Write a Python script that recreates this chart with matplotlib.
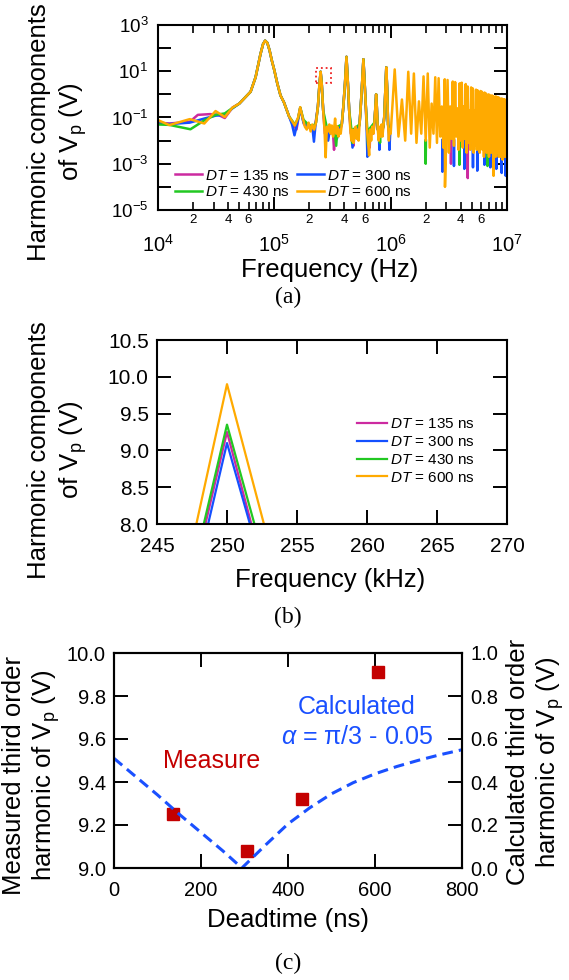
import numpy as np
import matplotlib
matplotlib.use('Agg')
import matplotlib.pyplot as plt
from matplotlib.ticker import FixedLocator, NullLocator, FuncFormatter, MultipleLocator
from matplotlib.patches import Rectangle

plt.rcParams['font.family'] = 'Liberation Sans'
plt.rcParams['mathtext.fontset'] = 'custom'
plt.rcParams['mathtext.rm'] = 'Liberation Sans'
plt.rcParams['mathtext.it'] = 'Liberation Sans:italic'
plt.rcParams['mathtext.bf'] = 'Liberation Sans:bold'

# ---- data ------------------------------------------------------------
labels = ['135', '300', '430', '600']
colors = ['#cc2aa0', '#1450ff', '#22c822', '#ffaa00']
NAN = np.nan

# (a) spectrum, DT = 600 ns (kHz, V) - the curve that sits on top
spec_600 = [
    (10, 0.077), (12.5, 0.047), (18.75, 0.085), (25, 0.055), (31.25, 0.19), (37.5, 0.105),
    (43.75, 0.27), (50, 0.40), (62.5, 1.3), (69, 5.5), (76, 55), (80, 150), (83.3, 210),
    (87, 170), (91, 80), (95, 30), (100, 11), (106, 3.0), (113, 0.9), (121, 0.45),
    (134, 0.11), (142, 0.07), (150, 0.045), (160, 0.1), (167, 0.28), (175, 0.1), (183, 0.04),
    (190, 0.03), (197, 0.06), (205, 0.025), (212, 0.05), (220, 0.03), (228, 0.06), (237, 0.3),
    (244, 2.5), (250, 9.5), (256, 2.5), (263, 0.2), (270, 0.03), (276, 0.0019), (283, 0.04),
    (290, 0.025), (297, 0.05), (305, 0.02), (312, 0.045), (320, 0.015), (326, 0.03), (333, 0.09),
    (340, 0.02), (348, 0.04), (356, 0.015), (364, 0.03), (372, 0.02), (380, 0.05), (392, 0.3),
    (405, 3), (417, 42), (429, 3), (440, 0.2), (450, 0.03), (460, 0.01), (470, 0.03),
    (480, 0.008), (490, 0.025), (500, 0.04), (510, 0.012), (520, 0.03), (530, 0.01), (540, 0.05),
    (555, 0.4), (570, 4), (583, 33), (596, 4), (610, 0.4), (625, 0.03), (640, 0.008),
    (653, 0.0023), (665, 0.03), (680, 0.01), (695, 0.04), (710, 0.02), (725, 0.06), (740, 0.3),
    (750, 1.0), (760, 0.3), (775, 0.03), (790, 0.01), (805, 0.04), (820, 0.015), (835, 0.05),
    (850, 0.015), (865, 0.04), (880, 0.1), (900, 1.5), (917, 14.7), (934, 1.5), (950, 0.05),
    (965, 0.01), (980, 0.03),
    (1000, 0.02), (1083.3, 12), (1166.7, 0.015), (1250, 0.6), (1333.3, 0.01), (1416.7, 9.5),
    (1500, 0.02), (1583.3, 8), (1666.7, 0.008), (1750, 0.5), (1833.3, 0.02), (1916.7, 6),
    (2000, 0.01), (2083.3, 8), (2166.7, 0.005), (2250, 0.4), (2333.3, 0.02), (2416.7, 5.5),
    (2500, 0.008), (2583.3, 5), (2666.7, 0.015), (2750, 0.3), (2833.3, 0.005), (2916.7, 4.5),
    (2930, 0.0001), (3000, 0.01), (3083.3, 4.2), (3166.7, 0.003), (3250, 0.3), (3333.3, 0.012),
    (3416.7, 3.6), (3500, 0.006), (3583.3, 3.4), (3666.7, 0.015), (3750, 0.25), (3833.3, 0.004),
    (3916.7, 3.0), (4000, 0.01), (4083.3, 3.2), (4166.7, 0.005), (4250, 0.3), (4333.3, 0.012),
    (4416.7, 2.8), (4500, 0.003), (4583.3, 2.2), (4666.7, 0.008), (4750, 0.2), (4833.3, 0.004),
    (4916.7, 2.0), (5000, 0.01), (5083.3, 1.8), (5166.7, 0.003), (5250, 0.2), (5333.3, 0.006),
    (5416.7, 1.6), (5500, 0.004), (5583.3, 1.5), (5666.7, 0.01), (5750, 0.15), (5833.3, 0.003),
    (5916.7, 1.4), (6000, 0.007), (6083.3, 1.3), (6166.7, 0.004), (6250, 0.15), (6333.3, 0.002),
    (6416.7, 1.2), (6500, 0.006), (6583.3, 1.1), (6666.7, 0.003), (6750, 0.12), (6833.3, 0.008),
    (6916.7, 1.0), (7000, 0.002), (7083.3, 0.95), (7166.7, 0.005), (7250, 0.1), (7333.3, 0.003),
    (7416.7, 0.9), (7500, 0.007), (7583.3, 0.85), (7666.7, 0.0003), (7750, 0.1), (7833.3, 0.004),
    (7916.7, 0.8), (8000, 0.002), (8083.3, 0.8), (8166.7, 0.006), (8250, 0.08), (8333.3, 0.003),
    (8416.7, 0.75), (8500, 0.002), (8583.3, 0.7), (8666.7, 0.005), (8750, 0.08), (8833.3, 0.002),
    (8916.7, 0.65), (9000, 0.004), (9083.3, 0.65), (9166.7, 0.0015), (9250, 0.07), (9333.3, 0.003),
    (9416.7, 0.6), (9500, 0.002), (9583.3, 0.6), (9666.7, 0.004), (9750, 0.07), (9833.3, 0.002),
    (9916.7, 0.55), (10000, 0.003),
]

# the other three curves mostly hide under the orange one; listed where they differ
# (NaN = gap, above 1 MHz only the dips below the orange band are visible)
spec_135 = [
    (10, 0.06), (12.5, 0.055), (18.75, 0.065), (22, 0.13), (28, 0.14), (33, 0.13), (37.5, 0.095),
    (43.75, 0.27), (50, 0.40), (62.5, 1.3), (69, 5.5), (76, 55), (80, 150), (83.3, 210),
    (87, 170), (91, 80), (95, 30), (100, 11), (106, 3.0), (113, 0.9), (121, 0.45), (134, 0.11),
    (145, 0.05), (155, 0.03), (167, 0.26), (180, 0.05), (195, 0.04), (210, 0.03), (225, 0.05),
    (237, 0.3), (244, 2.5), (250, 9.5), (256, 2.5), (263, 0.2), (272, 0.02), (285, 0.03),
    (300, 0.02), (318, 0.03), (326, 0.004), (334, 0.03), (345, 0.03), (360, 0.02), (380, 0.05),
    (392, 0.3), (405, 3), (417, 42), (429, 3), (440, 0.2), (455, 0.02), (470, 0.03),
    (480, 0.006), (490, 0.03), (520, 0.03), (540, 0.05), (555, 0.4), (570, 4), (583, 33),
    (596, 4), (610, 0.4), (625, 0.03), (650, 0.02), (660, 0.005), (670, 0.03), (710, 0.02),
    (725, 0.06), (740, 0.3), (750, 1.0), (760, 0.3), (775, 0.03), (800, 0.03), (830, 0.02),
    (865, 0.04), (880, 0.1), (900, 1.5), (917, 14.7), (934, 1.5), (950, 0.05), (980, 0.02),
    (NAN, NAN), (3290, 0.01), (3300, 0.001), (3310, 0.01),
    (NAN, NAN), (4590, 0.01), (4600, 0.00024), (4610, 0.01),
    (NAN, NAN), (7790, 0.01), (7800, 0.0008), (7810, 0.01),
]
spec_300 = [
    (10, 0.055), (12.5, 0.052), (18.75, 0.06), (25, 0.09), (31.25, 0.12), (37.5, 0.13),
    (43.75, 0.25), (50, 0.40), (62.5, 1.3), (69, 5.5), (76, 55), (80, 150), (83.3, 210),
    (87, 170), (91, 80), (95, 30), (100, 11), (106, 3.0), (113, 0.9), (121, 0.45), (134, 0.11),
    (142, 0.05), (149, 0.017), (155, 0.04), (167, 0.26), (178, 0.06), (195, 0.04), (212, 0.04),
    (219, 0.009), (225, 0.04), (237, 0.3), (244, 2.5), (250, 9.5), (256, 2.5), (263, 0.2),
    (275, 0.03), (290, 0.01), (300, 0.03), (330, 0.03), (345, 0.012), (360, 0.03), (380, 0.05),
    (392, 0.3), (405, 3), (417, 42), (429, 3), (440, 0.2), (455, 0.03), (470, 0.005),
    (480, 0.03), (510, 0.02), (540, 0.05), (555, 0.4), (570, 4), (583, 33), (596, 4),
    (610, 0.4), (622, 0.03), (631, 0.002), (640, 0.03), (680, 0.02), (710, 0.03), (725, 0.06),
    (740, 0.3), (750, 1.0), (760, 0.3), (775, 0.03), (790, 0.03), (800, 0.004), (810, 0.03),
    (840, 0.02), (865, 0.04), (880, 0.1), (900, 1.5), (917, 14.7), (934, 1.5), (950, 0.05),
    (965, 0.02), (975, 0.004), (990, 0.02),
    (NAN, NAN), (2780, 0.01), (2790, 0.00045), (2800, 0.01),
    (NAN, NAN), (3490, 0.01), (3500, 0.0008), (3510, 0.01),
    (NAN, NAN), (4290, 0.01), (4300, 0.0006), (4310, 0.01),
    (NAN, NAN), (5090, 0.01), (5100, 0.0007), (5110, 0.01),
    (NAN, NAN), (5540, 0.01), (5550, 0.0005), (5560, 0.01),
    (NAN, NAN), (6390, 0.01), (6400, 0.0009), (6410, 0.01),
    (NAN, NAN), (7190, 0.01), (7200, 0.0007), (7210, 0.01),
    (NAN, NAN), (8090, 0.01), (8100, 0.0006), (8110, 0.01),
    (NAN, NAN), (8990, 0.01), (9000, 0.0004), (9010, 0.01),
    (NAN, NAN), (9740, 0.01), (9750, 0.0003), (9760, 0.01),
]
spec_430 = [
    (10, 0.05), (12.5, 0.048), (19, 0.031), (25, 0.075), (31.25, 0.13), (37.5, 0.15),
    (43.75, 0.26), (50, 0.40), (62.5, 1.3), (69, 5.5), (76, 55), (80, 150), (83.3, 210),
    (87, 170), (91, 80), (95, 30), (100, 11), (106, 3.0), (113, 0.9), (121, 0.45), (134, 0.11),
    (150, 0.05), (160, 0.09), (167, 0.27), (178, 0.08), (195, 0.05), (215, 0.04), (228, 0.06),
    (237, 0.3), (244, 2.5), (250, 9.5), (256, 2.5), (263, 0.2), (285, 0.03), (310, 0.03),
    (330, 0.03), (340, 0.006), (350, 0.04), (380, 0.05), (392, 0.3), (405, 3), (417, 42),
    (429, 3), (440, 0.2), (460, 0.03), (468, 0.008), (476, 0.03), (540, 0.05), (555, 0.4),
    (570, 4), (583, 33), (596, 4), (610, 0.4), (630, 0.03), (640, 0.006), (650, 0.03),
    (725, 0.06), (740, 0.3), (750, 1.0), (760, 0.3), (775, 0.03), (800, 0.03), (810, 0.008),
    (820, 0.03), (865, 0.04), (880, 0.1), (900, 1.5), (917, 14.7), (934, 1.5), (950, 0.05),
    (980, 0.02),
    (NAN, NAN), (1990, 0.01), (2000, 0.001), (2010, 0.01),
    (NAN, NAN), (3890, 0.01), (3900, 0.0009), (3910, 0.01),
    (NAN, NAN), (6790, 0.01), (6800, 0.0008), (6810, 0.01),
]

# (b) zoom on the third harmonic (kHz, V)
zoom_f = [241.67, 250.0, 258.33]
zoom_vp = {
    '135': [2.5, 9.25, 3.27],
    '300': [2.31, 9.10, 3.51],
    '430': [2.57, 9.35, 3.61],
    '600': [2.67, 9.90, 3.90],
}

# (c) third order harmonic vs deadtime
dt_meas = [135, 305, 432, 608]
vp3_meas = [9.25, 9.08, 9.32, 9.91]
dt_calc = [0, 50, 100, 150, 200, 250, 294, 350, 400, 450, 500, 550, 600, 650, 700, 750, 800]
vp3_calc = [0.51, 0.425, 0.34, 0.25, 0.165, 0.08, 0.0, 0.11, 0.205, 0.28, 0.345, 0.397,
            0.438, 0.472, 0.501, 0.527, 0.55]

# ---- figure ----------------------------------------------------------
W, H = 569, 980
fig = plt.figure(figsize=(W / 100, H / 100), dpi=100)


def box(x0, y0, x1, y1):
    return [x0 / W, 1 - y1 / H, (x1 - x0) / W, (y1 - y0) / H]


def px(x, y):
    return x / W, 1 - y / H


LBL = 18.5
tick_kw = dict(direction='in', width=1.4, top=True, right=True)

# ----- (a)
ax1 = fig.add_axes(box(158, 25, 507, 210))
specs = [spec_135, spec_300, spec_430, spec_600]
lines = []
for lab, col, sp in zip(labels, colors, specs):
    f, v = np.array(sp).T
    ln, = ax1.plot(f * 1e3, v, color=col, lw=1.8, label=r'$\mathit{DT}$ = %s ns' % lab)
    lines.append(ln)
ax1.set_xscale('log')
ax1.set_yscale('log')
ax1.set_xlim(1e4, 1e7)
ax1.set_ylim(1e-5, 1e3)
ax1.yaxis.set_major_locator(FixedLocator(10.0 ** np.arange(-5, 4)))
ax1.yaxis.set_minor_locator(NullLocator())
ax1.yaxis.set_major_formatter(FuncFormatter(
    lambda v, p: r'$10^{%d}$' % round(np.log10(v)) if round(np.log10(v)) % 2 else ''))
ax1.xaxis.set_major_formatter(FuncFormatter(lambda v, p: r'$10^{%d}$' % round(np.log10(v))))


def minor_lab(v, p):
    m = v / 10 ** np.floor(np.log10(v) + 1e-9)
    m = int(round(m))
    return str(m) if m in (2, 4, 6) else ''


ax1.xaxis.set_minor_formatter(FuncFormatter(minor_lab))
ax1.tick_params(which='major', length=9.5, labelsize=13.5, **tick_kw)
ax1.tick_params(axis='x', which='major', labelsize=14.5, pad=17)
ax1.tick_params(which='minor', length=5.5, width=1.2, direction='in', top=True, labelsize=9.5, pad=3)
ax1.tick_params(axis='y', which='major', pad=7)
for s in ax1.spines.values():
    s.set_linewidth(1.5)
ax1.add_patch(Rectangle((227e3, 3.0), 78e3, 11.2, fill=False, ec='#ee2222', lw=1.3, ls=':'))
ax1.legend([lines[0], lines[2], lines[1], lines[3]],
           [ln.get_label() for ln in (lines[0], lines[2], lines[1], lines[3])],
           ncol=2, loc='lower left', bbox_to_anchor=(0.05, 0.06), frameon=False,
           fontsize=11, handlelength=1.75, handletextpad=0.2, columnspacing=0.45,
           labelspacing=0.15, borderpad=0, borderaxespad=0)
fig.text(*px(58, 132), 'Harmonic components\nof $\\mathrm{V_p}$ (V)', rotation=90,
         ha='center', va='center', multialignment='center', fontsize=LBL, linespacing=1.25)
fig.text(*px(330, 270), 'Frequency (Hz)', ha='center', va='center', fontsize=LBL)
fig.text(*px(288, 297), '(a)', ha='center', va='center', fontsize=17, family='Liberation Serif')

# ----- (b)
ax2 = fig.add_axes(box(157, 340, 507, 524))
for lab, col in zip(labels, colors):
    ax2.plot(zoom_f, zoom_vp[lab], color=col, lw=1.6, label=r'$\mathit{DT}$ = %s ns' % lab)
ax2.set_xlim(245, 270)
ax2.set_ylim(8.0, 10.5)
ax2.xaxis.set_major_locator(MultipleLocator(5))
ax2.yaxis.set_major_locator(MultipleLocator(0.5))
ax2.yaxis.set_major_formatter(FuncFormatter(lambda v, p: '%.1f' % v))
ax2.tick_params(length=10, labelsize=15, **tick_kw)
ax2.tick_params(axis='x', pad=9)
ax2.tick_params(axis='y', pad=6)
for s in ax2.spines.values():
    s.set_linewidth(1.5)
ax2.legend(loc='upper left', bbox_to_anchor=(0.57, 0.58), frameon=False, fontsize=11,
           handlelength=2.0, handletextpad=0.2, labelspacing=0.25, borderpad=0, borderaxespad=0)
fig.text(*px(58, 450), 'Harmonic components\nof $\\mathrm{V_p}$ (V)', rotation=90,
         ha='center', va='center', multialignment='center', fontsize=LBL, linespacing=1.25)
fig.text(*px(330, 580), 'Frequency (kHz)', ha='center', va='center', fontsize=LBL)
fig.text(*px(288, 617), '(b)', ha='center', va='center', fontsize=17, family='Liberation Serif')

# ----- (c)
ax3 = fig.add_axes(box(114, 653, 462, 868))
ax4 = ax3.twinx()
ax3.plot(dt_meas, vp3_meas, ls='none', marker='s', ms=8.5, color='#c40000')
ax4.plot(dt_calc, vp3_calc, color='#1a50ff', lw=2.2, ls=(0, (3.5, 2.0)))
ax3.set_xlim(0, 800)
ax3.set_ylim(9.0, 10.0)
ax4.set_ylim(0.0, 1.0)
ax3.xaxis.set_major_locator(MultipleLocator(200))
ax3.yaxis.set_major_locator(MultipleLocator(0.2))
ax4.yaxis.set_major_locator(MultipleLocator(0.2))
ax3.yaxis.set_major_formatter(FuncFormatter(lambda v, p: '%.1f' % v))
ax4.yaxis.set_major_formatter(FuncFormatter(lambda v, p: '%.1f' % v))
ax3.tick_params(direction='in', width=1.4, length=10, labelsize=14.5, top=True, right=False)
ax3.tick_params(axis='x', pad=9)
ax3.tick_params(axis='y', pad=6)
ax4.tick_params(direction='in', width=1.4, length=10, labelsize=14.5, pad=6)
for s in ax3.spines.values():
    s.set_linewidth(1.5)
for s in ax4.spines.values():
    s.set_linewidth(1.5)
fig.text(*px(357, 707), 'Calculated', ha='center', va='center', fontsize=18, color='#1a50ff')
fig.text(*px(357, 737), r'$\mathit{\alpha}$ = π/3 - 0.05', ha='center', va='center',
         fontsize=18, color='#1a50ff')
fig.text(*px(212, 761), 'Measure', ha='center', va='center', fontsize=18, color='#c40000')
fig.text(*px(32, 775), 'Measured third order\nharmonic of $\\mathrm{V_p}$ (V)', rotation=90,
         ha='center', va='center', multialignment='center', fontsize=LBL, linespacing=1.2)
fig.text(*px(536, 762), 'Calculated third order\nharmonic of $\\mathrm{V_p}$ (V)', rotation=90,
         ha='center', va='center', multialignment='center', fontsize=LBL, linespacing=1.2)
fig.text(*px(288, 920), 'Deadtime (ns)', ha='center', va='center', fontsize=LBL)
fig.text(*px(288, 963), '(c)', ha='center', va='center', fontsize=17, family='Liberation Serif')

fig.savefig('out.png', dpi=100)
